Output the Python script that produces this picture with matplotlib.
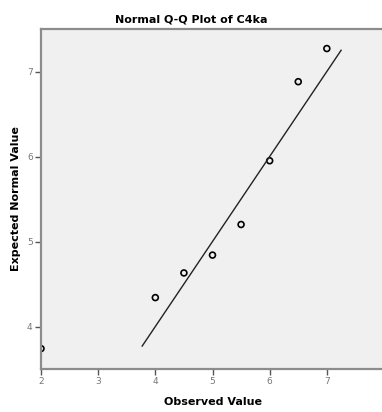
import matplotlib
matplotlib.use("Agg")
import matplotlib.pyplot as plt

# observed values and their expected normal quantiles
observed = [2.0, 4.0, 4.5, 5.0, 5.5, 6.0, 6.5, 7.0]
expected = [3.74, 4.34, 4.63, 4.84, 5.20, 5.95, 6.88, 7.27]
# reference line y = x
ref_x = [3.77, 7.25]
ref_y = [3.77, 7.25]

fig = plt.figure(figsize=(3.82, 4.12), dpi=100)
ax = fig.add_axes([41 / 382, 43 / 412, 343 / 382, 340 / 412])
ax.set_facecolor("#f0f0f0")

ax.plot(ref_x, ref_y, color="#222222", lw=1.0, zorder=2)
pts = ax.scatter(observed, expected, s=18, facecolors="none", edgecolors="black",
                 linewidths=1.2, zorder=1)
pts.set_clip_on(True)

ax.set_xlim(2, 8)
ax.set_ylim(3.5, 7.5)
ax.set_xticks([2, 3, 4, 5, 6, 7, 8])
ax.set_yticks([4, 5, 6, 7])

for side in ["left", "bottom", "top"]:
    ax.spines[side].set_color("#8c8c8c")
    ax.spines[side].set_linewidth(1.6)
    ax.spines[side].set_zorder(4)
ax.spines["right"].set_visible(False)

ax.tick_params(direction="out", length=4, width=1, color="#555555",
               labelsize=6.5, labelcolor="#777777", pad=2)

ax.set_xlabel("Observed Value", fontsize=8, fontweight="bold", labelpad=8)
ax.set_ylabel("Expected Normal Value", fontsize=8, fontweight="bold", labelpad=4)
fig.text(0.5, 1 - 19 / 412, "Normal Q-Q Plot of C4ka", ha="center", va="center",
         fontsize=8, fontweight="bold")

fig.savefig("out.png", dpi=100)
